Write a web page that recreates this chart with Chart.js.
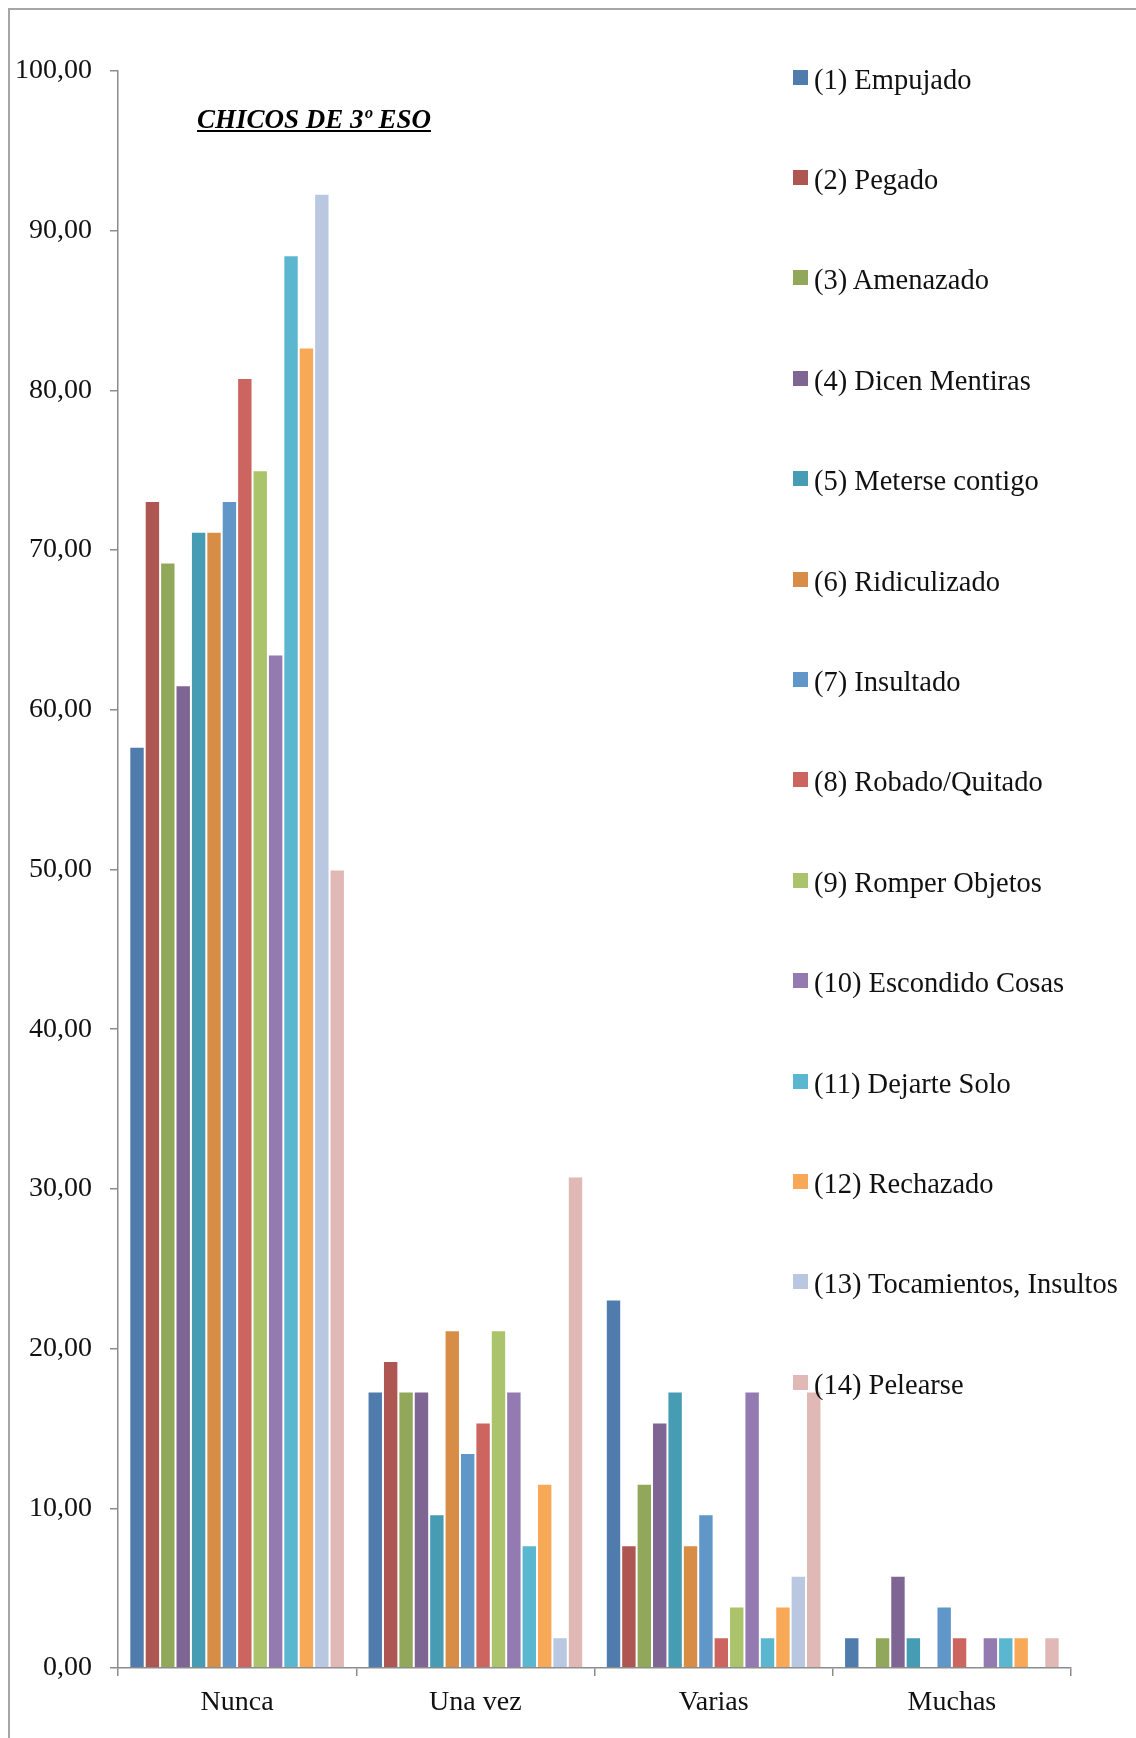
<!DOCTYPE html>
<html>
<head>
<meta charset="utf-8">
<script src="https://cdn.jsdelivr.net/npm/chart.js@4/dist/chart.umd.min.js"></script>
<style>
  body { margin: 0; background: #fff; }
  #wrap { position: relative; width: 1136px; height: 1738px; overflow: hidden; }
  #frame { position: absolute; left: 8px; top: 8px; right: -10px; bottom: -10px;
           border-left: 2px solid #a6a6a6; border-top: 2px solid #a6a6a6; }
  #title { position: absolute; left: 150px; width: 328px; top: 104px; text-align: center;
           font: italic bold 27px "Liberation Serif", serif; text-decoration: underline; color: #000; }
  #legend { position: absolute; left: 0; top: 0; }
  .item { position: absolute; left: 793px; white-space: nowrap;
          font: 28.5px "Liberation Serif", serif; color: #111; }
  .box { position: absolute; left: 0; width: 15px; height: 15px; }
  .txt { position: absolute; left: 21px; }
  canvas { position: absolute; left: 0; top: 0; }
</style>
</head>
<body>
<div id="wrap">
  <div id="frame"></div>
  <canvas id="chicosChart" width="1136" height="1738"></canvas>
  <div id="title">CHICOS DE 3º ESO</div>
  <div id="legend"></div>
</div>
<script>
// Categories (x axis)
const categories = ['Nunca', 'Una vez', 'Varias', 'Muchas'];

// Series names and colours
const seriesNames = [
  '(1) Empujado', '(2) Pegado', '(3) Amenazado', '(4) Dicen Mentiras',
  '(5) Meterse contigo', '(6) Ridiculizado', '(7) Insultado', '(8) Robado/Quitado',
  '(9) Romper Objetos', '(10) Escondido Cosas', '(11) Dejarte Solo', '(12) Rechazado',
  '(13) Tocamientos, Insultos', '(14) Pelearse'
];
const seriesColors = [
  '#4f7cac', '#ae5652', '#91a85a', '#7e6594', '#469db3', '#d88d46', '#6196c8',
  '#cc6560', '#abc46c', '#937ab0', '#5bb7d0', '#f8a957', '#b9c7e1', '#e0b8b6'
];

// Values per series: [Nunca, Una vez, Varias, Muchas]
const empujado      = [57.69, 17.31, 23.08, 1.92];
const pegado        = [73.08, 19.23, 7.69, 0];
const amenazado     = [69.23, 17.31, 11.54, 1.92];
const dicenMentiras = [61.54, 17.31, 15.38, 5.77];
const meterse       = [71.15, 9.62, 17.31, 1.92];
const ridiculizado  = [71.15, 21.15, 7.69, 0];
const insultado     = [73.08, 13.46, 9.62, 3.85];
const robado        = [80.77, 15.38, 1.92, 1.92];
const romper        = [75.00, 21.15, 3.85, 0];
const escondido     = [63.46, 17.31, 17.31, 1.92];
const dejarteSolo   = [88.46, 7.69, 1.92, 1.92];
const rechazado     = [82.69, 11.54, 3.85, 1.92];
const tocamientos   = [92.31, 1.92, 5.77, 0];
const pelearse      = [50.00, 30.77, 17.31, 1.92];

const seriesValues = [empujado, pegado, amenazado, dicenMentiras, meterse, ridiculizado,
  insultado, robado, romper, escondido, dejarteSolo, rechazado, tocamientos, pelearse];

// Y axis ticks
const yMin = 0;
const yMax = 100;
const yStep = 10;

const datasets = seriesNames.map((name, i) => ({
  label: name,
  data: seriesValues[i],
  backgroundColor: seriesColors[i],
  borderColor: 'rgba(255,255,255,0.35)',
  borderWidth: 1,
  borderSkipped: 'start',
  barPercentage: 1,
  categoryPercentage: 0.905
}));

const axisColor = '#8c8c8c';
const ctx = document.getElementById('chicosChart').getContext('2d');
const chicosChart = new Chart(ctx, {
  type: 'bar',
  data: { labels: categories, datasets: datasets },
  options: {
    responsive: false,
    animation: false,
    devicePixelRatio: 1,
    layout: { padding: { top: 71, right: 65, bottom: 0, left: 0 } },
    plugins: { legend: { display: false }, title: { display: false }, tooltip: { enabled: false } },
    scales: {
      x: {
        grid: { drawOnChartArea: false, drawTicks: true, tickLength: 8, color: axisColor, lineWidth: 1.5, offset: true },
        border: { display: true, color: axisColor, width: 1.5 },
        ticks: { color: '#111', font: { family: 'Liberation Serif', size: 28 }, padding: 10 },
        afterFit: s => { s.height = 70; }
      },
      y: {
        min: yMin,
        max: yMax,
        grid: { drawOnChartArea: false, drawTicks: true, tickLength: 8, color: axisColor, lineWidth: 1.5 },
        border: { display: true, color: axisColor, width: 1.5 },
        ticks: {
          stepSize: yStep,
          color: '#111',
          font: { family: 'Liberation Serif', size: 28 },
          padding: 18,
          callback: v => v.toFixed(2).replace('.', ',')
        },
        afterFit: s => { s.width = 118; }
      }
    }
  }
});

// Legend placed over the plot, as in the original
const legend = document.getElementById('legend');
seriesNames.forEach((name, i) => {
  const centre = 77 + i * 100.4;
  const item = document.createElement('div');
  item.className = 'item';
  item.style.top = (centre - 7.5) + 'px';
  item.innerHTML = '<div class="box" style="background:' + seriesColors[i] + '"></div>' +
    '<div class="txt" style="top:' + (-6) + 'px">' + name + '</div>';
  legend.appendChild(item);
});
</script>
</body>
</html>
